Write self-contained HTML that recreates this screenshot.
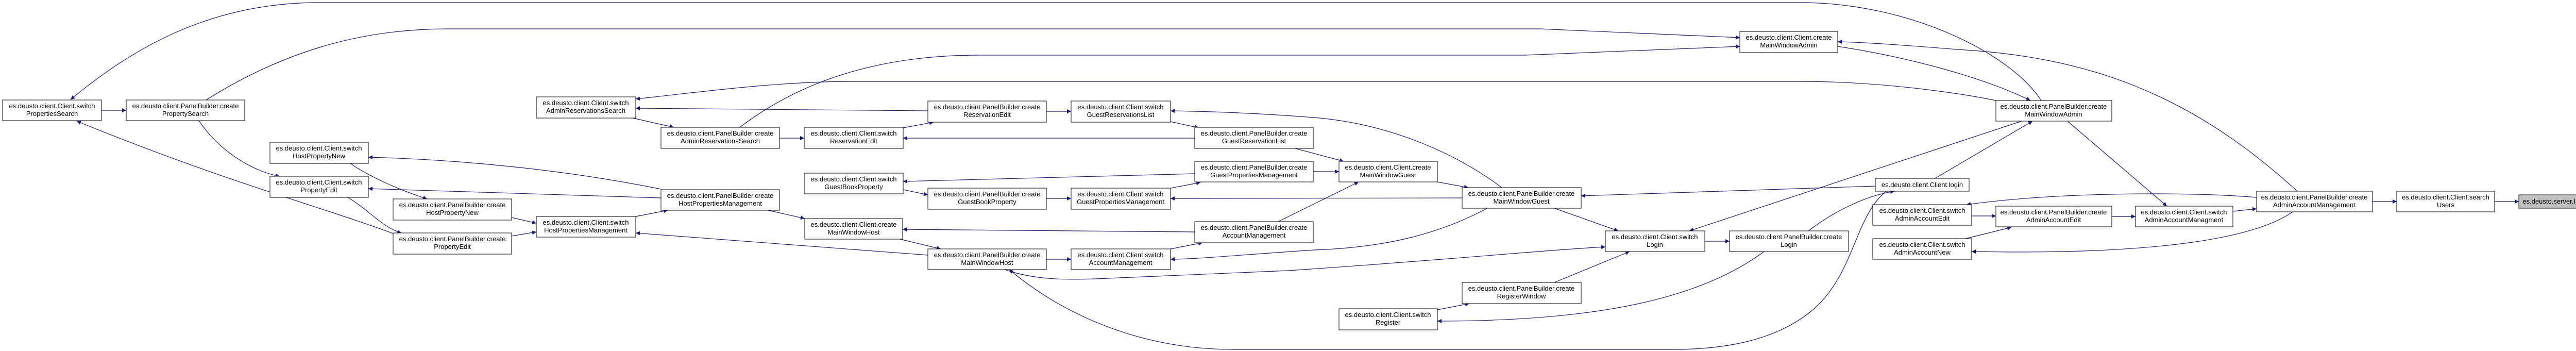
<!DOCTYPE html>
<html><head><meta charset="utf-8"><style>
html,body{margin:0;padding:0;background:#fff;}
svg{display:block;}
text{font-family:"Liberation Sans",Arial,sans-serif;font-size:13px;fill:#000;text-anchor:middle;}
.n{fill:#fff;stroke:#000;stroke-width:1;}
.e{fill:none;stroke:#191970;stroke-width:1.2;marker-end:url(#a);}
</style></head><body>
<svg width="5131" height="681" viewBox="0 0 5131 681" xmlns="http://www.w3.org/2000/svg">
<defs><marker id="a" viewBox="0 0 10 10" refX="10" refY="5" markerWidth="10" markerHeight="8" markerUnits="userSpaceOnUse" orient="auto"><path d="M0,0 L10,5 L0,10 z" fill="#191970"/></marker></defs>
<g>
<path class="e" d="M197,214 L245,214"/>
<path class="e" d="M386,234 C430,300 500,335 543,342"/>
<path class="e" d="M763,453 C620,400 430,350 149,235"/>
<path class="e" d="M3962,195 C3900,100 3700,5 3495,5 L620,5 C400,5 250,100 137,193"/>
<path class="e" d="M400,194 C550,100 700,56 870,56 L2990,56 L3377,73"/>
<path class="e" d="M1436,247 C1550,160 1700,107 1900,107 L2960,107 L3377,90"/>
<path class="e" d="M4459,371 C4250,180 4050,110 3800,96 C3700,88 3620,82 3567,81"/>
<path class="e" d="M3567,90 C3700,110 3850,150 3941,195"/>
<path class="e" d="M3874,195 C3800,180 3650,158 3495,158 L1660,158 C1500,158 1350,180 1234,192"/>
<path class="e" d="M1801,215 L1234,210"/>
<path class="e" d="M1228,229 L1308,247"/>
<path class="e" d="M1513,268 L1561,268"/>
<path class="e" d="M1753,248 L1812,237"/>
<path class="e" d="M2031,216 L2079,216"/>
<path class="e" d="M2272,236 L2327,248"/>
<path class="e" d="M2319,268 L1753,268"/>
<path class="e" d="M2514,288 L2608,313"/>
<path class="e" d="M2915,364 C2830,300 2700,240 2550,228 C2420,218 2330,216 2272,215"/>
<path class="e" d="M2319,337 L1753,352"/>
<path class="e" d="M1753,368 L1801,378"/>
<path class="e" d="M2031,385 L2079,385"/>
<path class="e" d="M2272,365 L2330,354"/>
<path class="e" d="M2549,333 L2599,333"/>
<path class="e" d="M2838,384 L2272,385"/>
<path class="e" d="M1234,420 L1296,408"/>
<path class="e" d="M1283,367 C1100,330 900,310 715,305"/>
<path class="e" d="M1283,384 L715,366"/>
<path class="e" d="M1491,408 L1562,424"/>
<path class="e" d="M1747,464 L1826,483"/>
<path class="e" d="M2031,503 L2079,503"/>
<path class="e" d="M2272,483 L2334,471"/>
<path class="e" d="M2319,450 L1752,445"/>
<path class="e" d="M2481,430 L2637,353"/>
<path class="e" d="M1801,495 L1234,452"/>
<path class="e" d="M680,317 C720,345 780,370 829,386"/>
<path class="e" d="M675,383 C720,410 740,440 779,452"/>
<path class="e" d="M993,422 L1041,433"/>
<path class="e" d="M993,458 L1041,450"/>
<path class="e" d="M2887,404 C2800,450 2700,480 2550,485 C2400,495 2320,503 2272,503"/>
<path class="e" d="M1950,523 C2000,540 2050,545 2150,540 L2500,525 C2800,505 3000,485 3116,479"/>
<path class="e" d="M3661,371 C3600,420 3600,530 3520,600 C3450,660 3350,678 3246,678 L2394,678 C2200,678 2050,600 1959,523"/>
<path class="e" d="M2790,353 L2850,364"/>
<path class="e" d="M3017,404 L3141,448"/>
<path class="e" d="M3309,468 L3357,468"/>
<path class="e" d="M3017,548 L3163,488"/>
<path class="e" d="M2790,601 L2852,589"/>
<path class="e" d="M3424,488 C3300,580 3100,623 2790,623"/>
<path class="e" d="M3510,448 C3560,410 3620,380 3677,371"/>
<path class="e" d="M3640,361 L3069,380"/>
<path class="e" d="M3924,235 L3279,448"/>
<path class="e" d="M3756,346 L3945,235"/>
<path class="e" d="M3827,419 L3874,419"/>
<path class="e" d="M3815,463 L3904,441"/>
<path class="e" d="M4099,420 L4145,420"/>
<path class="e" d="M4334,410 L4380,405"/>
<path class="e" d="M4014,236 L4206,400"/>
<path class="e" d="M4380,383 C4250,372 4000,372 3817,397"/>
<path class="e" d="M4450,411 C4380,460 4200,495 3827,488"/>
<path class="e" d="M4605,391 L4652,391"/>
<path class="e" d="M4842,391 L4889,391"/>
</g>
<g>
<rect class="n" x="5" y="194" width="192" height="40"/><text x="101" y="210">es.deusto.client.Client.switch</text><text x="101" y="225">PropertiesSearch</text>
<rect class="n" x="245" y="194" width="230" height="40"/><text x="360" y="210">es.deusto.client.PanelBuilder.create</text><text x="360" y="225">PropertySearch</text>
<rect class="n" x="524" y="276" width="191" height="41"/><text x="619" y="292">es.deusto.client.Client.switch</text><text x="619" y="307">HostPropertyNew</text>
<rect class="n" x="524" y="342" width="191" height="41"/><text x="619" y="358">es.deusto.client.Client.switch</text><text x="619" y="373">PropertyEdit</text>
<rect class="n" x="763" y="386" width="230" height="41"/><text x="878" y="402">es.deusto.client.PanelBuilder.create</text><text x="878" y="417">HostPropertyNew</text>
<rect class="n" x="763" y="452" width="230" height="41"/><text x="878" y="468">es.deusto.client.PanelBuilder.create</text><text x="878" y="483">PropertyEdit</text>
<rect class="n" x="1041" y="420" width="193" height="40"/><text x="1137" y="436">es.deusto.client.Client.switch</text><text x="1137" y="451">HostPropertiesManagement</text>
<rect class="n" x="1041" y="188" width="193" height="41"/><text x="1137" y="204">es.deusto.client.Client.switch</text><text x="1137" y="219">AdminReservationsSearch</text>
<rect class="n" x="1283" y="247" width="230" height="41"/><text x="1398" y="263">es.deusto.client.PanelBuilder.create</text><text x="1398" y="278">AdminReservationsSearch</text>
<rect class="n" x="1561" y="247" width="192" height="41"/><text x="1657" y="263">es.deusto.client.Client.switch</text><text x="1657" y="278">ReservationEdit</text>
<rect class="n" x="1801" y="196" width="230" height="41"/><text x="1916" y="212">es.deusto.client.PanelBuilder.create</text><text x="1916" y="227">ReservationEdit</text>
<rect class="n" x="2079" y="196" width="193" height="41"/><text x="2175" y="212">es.deusto.client.Client.switch</text><text x="2175" y="227">GuestReservationsList</text>
<rect class="n" x="2319" y="247" width="230" height="41"/><text x="2434" y="263">es.deusto.client.PanelBuilder.create</text><text x="2434" y="278">GuestReservationList</text>
<rect class="n" x="2319" y="313" width="230" height="40"/><text x="2434" y="329">es.deusto.client.PanelBuilder.create</text><text x="2434" y="344">GuestPropertiesManagement</text>
<rect class="n" x="1561" y="336" width="192" height="40"/><text x="1657" y="352">es.deusto.client.Client.switch</text><text x="1657" y="367">GuestBookProperty</text>
<rect class="n" x="1801" y="365" width="230" height="41"/><text x="1916" y="381">es.deusto.client.PanelBuilder.create</text><text x="1916" y="396">GuestBookProperty</text>
<rect class="n" x="2079" y="365" width="193" height="41"/><text x="2175" y="381">es.deusto.client.Client.switch</text><text x="2175" y="396">GuestPropertiesManagement</text>
<rect class="n" x="1283" y="368" width="230" height="40"/><text x="1398" y="384">es.deusto.client.PanelBuilder.create</text><text x="1398" y="399">HostPropertiesManagement</text>
<rect class="n" x="1562" y="424" width="190" height="40"/><text x="1657" y="440">es.deusto.client.Client.create</text><text x="1657" y="455">MainWindowHost</text>
<rect class="n" x="1801" y="483" width="230" height="40"/><text x="1916" y="499">es.deusto.client.PanelBuilder.create</text><text x="1916" y="514">MainWindowHost</text>
<rect class="n" x="2079" y="483" width="193" height="40"/><text x="2175" y="499">es.deusto.client.Client.switch</text><text x="2175" y="514">AccountManagement</text>
<rect class="n" x="2319" y="430" width="230" height="41"/><text x="2434" y="446">es.deusto.client.PanelBuilder.create</text><text x="2434" y="461">AccountManagement</text>
<rect class="n" x="3377" y="61" width="190" height="41"/><text x="3472" y="77">es.deusto.client.Client.create</text><text x="3472" y="92">MainWindowAdmin</text>
<rect class="n" x="2599" y="313" width="191" height="40"/><text x="2694" y="329">es.deusto.client.Client.create</text><text x="2694" y="344">MainWindowGuest</text>
<rect class="n" x="2838" y="364" width="231" height="40"/><text x="2953" y="380">es.deusto.client.PanelBuilder.create</text><text x="2953" y="395">MainWindowGuest</text>
<rect class="n" x="3116" y="448" width="193" height="40"/><text x="3212" y="464">es.deusto.client.Client.switch</text><text x="3212" y="479">Login</text>
<rect class="n" x="3357" y="448" width="231" height="40"/><text x="3472" y="464">es.deusto.client.PanelBuilder.create</text><text x="3472" y="479">Login</text>
<rect class="n" x="2838" y="548" width="231" height="41"/><text x="2953" y="564">es.deusto.client.PanelBuilder.create</text><text x="2953" y="579">RegisterWindow</text>
<rect class="n" x="2599" y="599" width="191" height="41"/><text x="2694" y="615">es.deusto.client.Client.switch</text><text x="2694" y="630">Register</text>
<rect class="n" x="3640" y="346" width="182" height="25"/><text x="3731" y="363">es.deusto.client.Client.login</text>
<rect class="n" x="3635" y="397" width="192" height="40"/><text x="3731" y="413">es.deusto.client.Client.switch</text><text x="3731" y="428">AdminAccountEdit</text>
<rect class="n" x="3635" y="463" width="192" height="40"/><text x="3731" y="479">es.deusto.client.Client.switch</text><text x="3731" y="494">AdminAccountNew</text>
<rect class="n" x="3874" y="195" width="225" height="40"/><text x="3986" y="211">es.deusto.client.PanelBuilder.create</text><text x="3986" y="226">MainWindowAdmin</text>
<rect class="n" x="3874" y="400" width="225" height="40"/><text x="3986" y="416">es.deusto.client.PanelBuilder.create</text><text x="3986" y="431">AdminAccountEdit</text>
<rect class="n" x="4145" y="400" width="189" height="40"/><text x="4239" y="416">es.deusto.client.Client.switch</text><text x="4239" y="431">AdminAccountManagment</text>
<rect class="n" x="4380" y="371" width="225" height="40"/><text x="4492" y="387">es.deusto.client.PanelBuilder.create</text><text x="4492" y="402">AdminAccountManagement</text>
<rect class="n" x="4652" y="371" width="190" height="40"/><text x="4747" y="387">es.deusto.client.Client.search</text><text x="4747" y="402">Users</text>
<rect x="4889" y="378" width="205" height="26" fill="#bfbfbf" stroke="#000"/><text x="4991" y="395">es.deusto.server.IServer.getUser</text>
</g>
</svg>
</body></html>
